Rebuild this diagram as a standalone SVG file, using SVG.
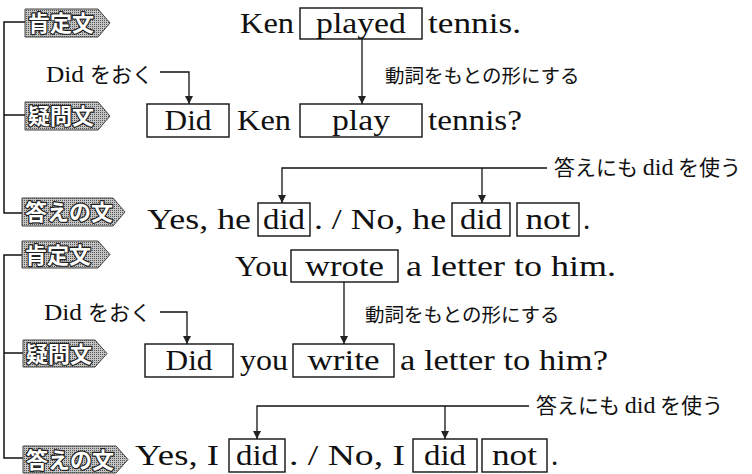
<svg xmlns="http://www.w3.org/2000/svg" width="752" height="474" viewBox="0 0 752 474">
<style>
.s{font-family:"Liberation Serif","DejaVu Serif",serif;font-size:29px;fill:#111}
.j{font-family:"Noto Sans CJK JP","Noto Sans",sans-serif;font-size:21px;fill:#111}
.jv{font-family:"Noto Sans CJK JP","Noto Sans",sans-serif;font-size:19.5px;fill:#111}
.js{font-family:"Liberation Serif","DejaVu Serif",serif;font-size:24px}
.box{fill:none;stroke:#111;stroke-width:1.4}
.tag{fill:url(#dots);stroke:#444;stroke-width:1}
.tt{font-family:"Noto Sans CJK JP",sans-serif;font-size:22px;font-weight:bold;fill:#fff;stroke:#222;stroke-width:2.4;paint-order:stroke;stroke-linejoin:round}
.ln{fill:none;stroke:#111;stroke-width:1.3}
.br{fill:none;stroke:#111;stroke-width:1.5}
</style>
<defs>
<pattern id="dots" width="2" height="2" patternUnits="userSpaceOnUse">
<rect width="2" height="2" fill="#c4c4c4"/>
<rect width="1" height="1" fill="#555"/>
</pattern>
<marker id="ah" viewBox="0 0 10 10" refX="10" refY="5" markerWidth="9" markerHeight="8" markerUnits="userSpaceOnUse" orient="auto">
<path d="M0,0 L10,5 L0,10 Z" fill="#222"/>
</marker>
</defs>

<g id="connectors">
<path class="br" d="M25,22 H4 V213 H22 M4,115 H25"/>
<path class="br" d="M22,255 H4 V458 H23 M4,353 H23"/>
<path class="ln" d="M160,72 H189 V104" marker-end="url(#ah)"/>
<path class="ln" d="M362,39 V104" marker-end="url(#ah)"/>
<path class="ln" d="M547,168 H282 V203" marker-end="url(#ah)"/>
<path class="ln" d="M482,168 V203" marker-end="url(#ah)"/>
<path class="ln" d="M160,312 H187 V344" marker-end="url(#ah)"/>
<path class="ln" d="M344,282 V344" marker-end="url(#ah)"/>
<path class="ln" d="M529,406 H257 V439" marker-end="url(#ah)"/>
<path class="ln" d="M445,406 V439" marker-end="url(#ah)"/>
</g>

<g id="badge-kotei1"><path class="tag" d="M25,9 H98 L110,23 L98,37 H25 Z"/><text class="tt" x="28" y="31">肯定文</text></g>
<g id="badge-gimon1"><path class="tag" d="M25,102 H98 L110,116 L98,130 H25 Z"/><text class="tt" x="28" y="124">疑問文</text></g>
<g id="badge-kotae1"><path class="tag" d="M22,198 H113 L125,212 L113,226 H22 Z"/><text class="tt" x="25" y="220">答えの文</text></g>
<g id="badge-kotei2"><path class="tag" d="M22,241 H98 L110,254.5 L98,268 H22 Z"/><text class="tt" x="25" y="263">肯定文</text></g>
<g id="badge-gimon2"><path class="tag" d="M23,340 H95 L107,353.5 L95,367 H23 Z"/><text class="tt" x="26" y="362">疑問文</text></g>
<g id="badge-kotae2"><path class="tag" d="M23,446 H116 L128,459.5 L116,473 H23 Z"/><text class="tt" x="26" y="468">答えの文</text></g>

<g id="row1">
<text class="s" x="240" y="33" textLength="54" lengthAdjust="spacingAndGlyphs">Ken</text>
<rect class="box" x="300" y="8" width="122" height="31"/>
<text class="s" x="361" y="33" text-anchor="middle" textLength="90" lengthAdjust="spacingAndGlyphs">played</text>
<text class="s" x="428" y="33" textLength="93" lengthAdjust="spacingAndGlyphs">tennis.</text>
</g>

<g id="label-did1"><text class="j" x="46" y="82"><tspan class="js" textLength="38" lengthAdjust="spacingAndGlyphs">Did</tspan><tspan x="90">をおく</tspan></text></g>
<g id="label-verb1"><text class="jv" x="385" y="83">動詞をもとの形にする</text></g>

<g id="row2">
<rect class="box" x="147" y="104" width="82" height="33"/>
<text class="s" x="188" y="130" text-anchor="middle" textLength="47" lengthAdjust="spacingAndGlyphs">Did</text>
<text class="s" x="237" y="130" textLength="54" lengthAdjust="spacingAndGlyphs">Ken</text>
<rect class="box" x="300" y="104" width="122" height="33"/>
<text class="s" x="361" y="130" text-anchor="middle" textLength="58" lengthAdjust="spacingAndGlyphs">play</text>
<text class="s" x="428" y="130" textLength="94" lengthAdjust="spacingAndGlyphs">tennis?</text>
</g>

<g id="label-ans1"><text class="j" x="554" y="175">答えにも <tspan class="js">did</tspan> を使う</text></g>

<g id="row3">
<text class="s" x="147" y="229" textLength="104" lengthAdjust="spacingAndGlyphs">Yes, he</text>
<rect class="box" x="258" y="203" width="52" height="33"/>
<text class="s" x="284" y="229" text-anchor="middle" textLength="42" lengthAdjust="spacingAndGlyphs">did</text>
<text class="s" x="314" y="229" textLength="132" lengthAdjust="spacingAndGlyphs">. / No, he</text>
<rect class="box" x="452" y="203" width="58" height="33"/>
<text class="s" x="481" y="229" text-anchor="middle" textLength="42" lengthAdjust="spacingAndGlyphs">did</text>
<rect class="box" x="517" y="203" width="62" height="33"/>
<text class="s" x="548" y="229" text-anchor="middle" textLength="45" lengthAdjust="spacingAndGlyphs">not</text>
<text class="s" x="583" y="229">.</text>
</g>

<g id="row4">
<text class="s" x="235" y="276" textLength="53" lengthAdjust="spacingAndGlyphs">You</text>
<rect class="box" x="291" y="250" width="107" height="32"/>
<text class="s" x="344.5" y="276" text-anchor="middle" textLength="79" lengthAdjust="spacingAndGlyphs">wrote</text>
<text class="s" x="406" y="276" textLength="210" lengthAdjust="spacingAndGlyphs">a letter to him.</text>
</g>

<g id="label-did2"><text class="j" x="44" y="320"><tspan class="js" textLength="38" lengthAdjust="spacingAndGlyphs">Did</tspan><tspan x="88">をおく</tspan></text></g>
<g id="label-verb2"><text class="jv" x="365" y="322">動詞をもとの形にする</text></g>

<g id="row5">
<rect class="box" x="145" y="344" width="88" height="33"/>
<text class="s" x="189" y="370" text-anchor="middle" textLength="47" lengthAdjust="spacingAndGlyphs">Did</text>
<text class="s" x="240" y="370" textLength="48" lengthAdjust="spacingAndGlyphs">you</text>
<rect class="box" x="293" y="344" width="101" height="33"/>
<text class="s" x="343.5" y="370" text-anchor="middle" textLength="72" lengthAdjust="spacingAndGlyphs">write</text>
<text class="s" x="400" y="370" textLength="208" lengthAdjust="spacingAndGlyphs">a letter to him?</text>
</g>

<g id="label-ans2"><text class="j" x="536" y="413">答えにも <tspan class="js">did</tspan> を使う</text></g>

<g id="row6">
<text class="s" x="135" y="465" textLength="84" lengthAdjust="spacingAndGlyphs">Yes, I</text>
<rect class="box" x="229" y="439" width="56" height="33"/>
<text class="s" x="257" y="465" text-anchor="middle" textLength="42" lengthAdjust="spacingAndGlyphs">did</text>
<text class="s" x="289" y="465" textLength="116" lengthAdjust="spacingAndGlyphs">. / No, I</text>
<rect class="box" x="413" y="439" width="64" height="33"/>
<text class="s" x="445" y="465" text-anchor="middle" textLength="42" lengthAdjust="spacingAndGlyphs">did</text>
<rect class="box" x="482" y="439" width="65" height="33"/>
<text class="s" x="514.5" y="465" text-anchor="middle" textLength="45" lengthAdjust="spacingAndGlyphs">not</text>
<text class="s" x="551" y="465">.</text>
</g>
</svg>
